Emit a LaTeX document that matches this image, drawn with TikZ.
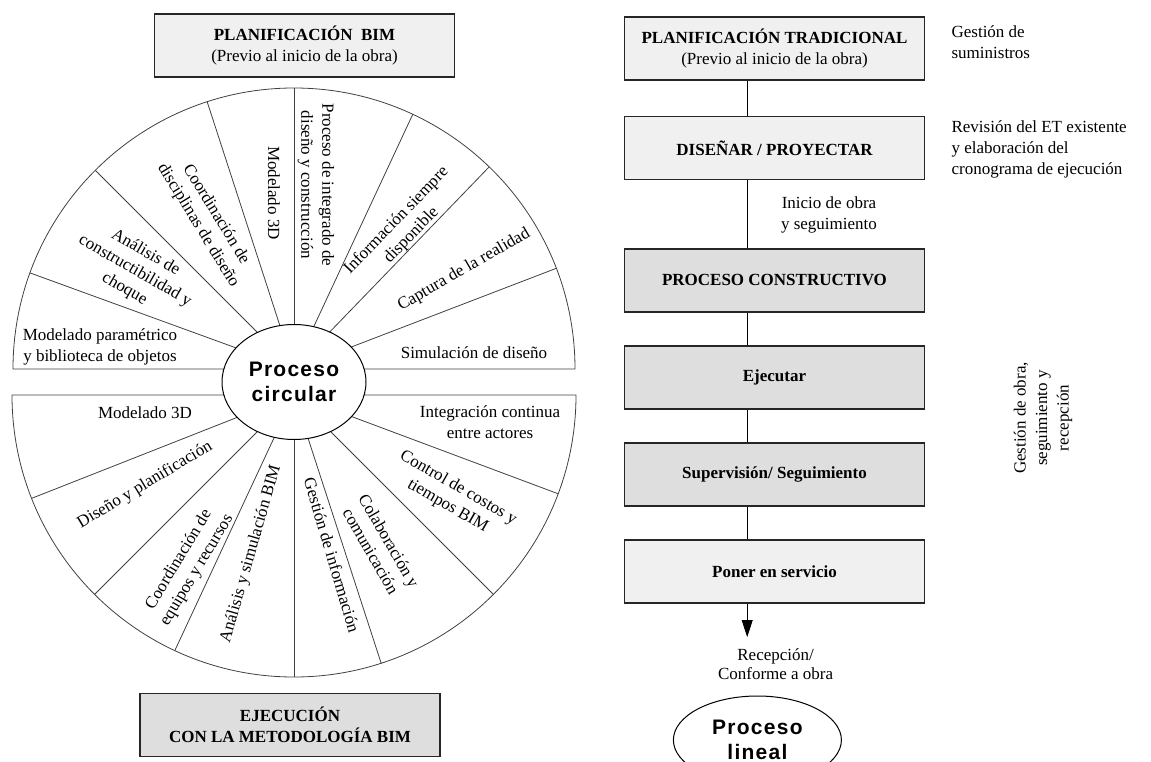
\documentclass[tikz,border=0pt]{standalone}
\usepackage{fontspec}
\setmainfont{Liberation Serif}
\newfontfamily\arialfont[LetterSpace=6]{Liberation Sans}
\usetikzlibrary{shapes,arrows.meta}

\begin{document}
\begin{tikzpicture}[x=1pt,y=-1pt,
  font=\fontsize{17}{21}\selectfont,
  box/.style={draw=black!85,line width=1.2pt,minimum width=300pt,minimum height=63pt,align=center,font=\fontsize{17}{21}\selectfont\bfseries},
  lite/.style={box,fill=black!6},
  dark/.style={box,fill=black!13},
  wedge/.style={draw=black!75,line width=0.8pt},
  lbl/.style={align=center,inner sep=0pt},
  proc/.style={ellipse,draw=black,line width=1pt,fill=white,align=center,inner sep=0pt,font=\arialfont\bfseries\fontsize{21}{25}\selectfont}]
\useasboundingbox (0,0) rectangle (1151,762);
\node[lite] (b1) at (304.5,45.5) {PLANIFICACIÓN\ \ BIM\\\mdseries(Previo al inicio de la obra)};
\node[dark] (b2) at (290,725) {EJECUCIÓN\\CON LA METODOLOGÍA BIM};
\coordinate (cu) at (294,369);
\coordinate (cd) at (294,395);
\draw[wedge] (cu) ++(281,0) arc[start angle=0,end angle=-180,radius=281] -- cycle;
\draw[wedge] (cd) ++(282,0) arc[start angle=0,end angle=180,radius=282] -- cycle;
\foreach \a in {21,46,65,90,108,135,160}
  \draw[wedge] (cu) -- ++({281*cos(\a)},{-281*sin(\a)});
\foreach \a in {201.5,225,245,270,288,315,339.5}
  \draw[wedge] (cd) -- ++({282*cos(\a)},{-282*sin(\a)});
\node[proc,minimum width=144pt,minimum height=115pt] (c1) at (294,382) {Proceso\\circular};
\foreach \x/\y/\r/\t [count=\i] in {
  474/353/0/{Simulación de diseño},
  464/270/30/{Captura de la realidad},
  404/228/46/{Información siempre\\disponible},
  316/185/-90/{Proceso de integrado de\\diseño y construcción},
  274/193/-90/{Modelado 3D},
  207/220/-58.5/{Coordinación de\\disciplinas de diseño},
  135/271/-30/{Análisis de\\constructibilidad y\\choque},
  100/347/0/{Modelado paramétrico\\y biblioteca de objetos},
  145/413/0/{Modelado 3D},
  145/485/31/{Diseño y planificación},
  188/565/59/{Coordinación de\\equipos y recursos},
  251/554/74/{Análisis y simulación BIM},
  332/555/-73.5/{Gestión de información},
  380/546/-60/{Colaboración y\\comunicación},
  453/497/-30/{Control de costos y\\tiempos BIM},
  490/422/0/{Integración continua\\entre actores}}
  \node[lbl,rotate=\r] (s\i) at (\x,\y) {\t};
\node[lite] (p1) at (774.5,48.5) {PLANIFICACIÓN TRADICIONAL\\\mdseries(Previo al inicio de la obra)};
\node[lite] (p2) at (774.5,148) {DISEÑAR / PROYECTAR};
\node[dark] (p3) at (774.5,280.5) {PROCESO CONSTRUCTIVO};
\node[dark] (p4) at (774.5,377.5) {Ejecutar};
\node[dark] (p5) at (774.5,474.5) {Supervisión/ Seguimiento};
\node[lite] (p6) at (774.5,571.5) {Poner en servicio};
\foreach \i [evaluate=\i as \j using int(\i+1)] in {1,...,5}
  \draw[line width=0.8pt] ([xshift=-27.3pt]p\i.south) -- ([xshift=-27.3pt]p\j.north);
\coordinate (a1) at (747.2,637);
\draw[line width=0.8pt,-{Triangle[width=11pt,length=17pt]}] ([xshift=-27.3pt]p6.south) -- (a1);
\node[lbl,font=\fontsize{17}{19}\selectfont] (n3) at (775.6,664) {Recepción/\\Conforme a obra};
\node[proc,minimum width=168pt,minimum height=88pt] (c2) at (757.4,740) {Proceso\\lineal};
\node[lbl,anchor=west,align=left] (n1) at (951.4,42.5) {Gestión de\\suministros};
\node[lbl,anchor=west,align=left] (n2) at (951.4,149) {Revisión del ET existente\\y elaboración del\\cronograma de ejecución};
\node[lbl] (n4) at (829,215) {Inicio de obra\\y seguimiento};
\node[lbl,rotate=90,font=\fontsize{17}{21.5}\selectfont] (n5) at (1043,418) {Gestión de obra,\\seguimiento y\\recepción};
\end{tikzpicture}
\end{document}
